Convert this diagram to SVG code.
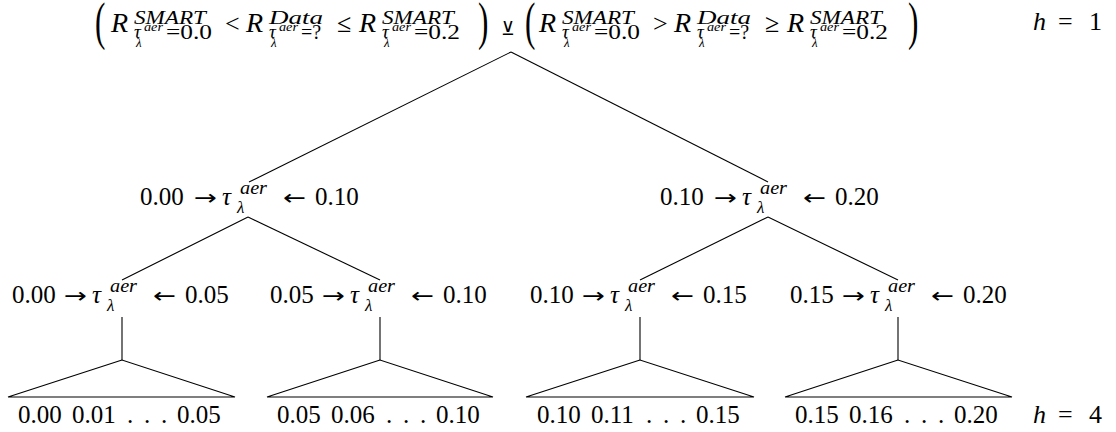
<svg xmlns="http://www.w3.org/2000/svg" width="1116" height="432" viewBox="0 0 1116 432">
<style>
text{font-family:"Liberation Serif","DejaVu Serif",serif;fill:#000}
.m{font-size:26px}
.R{font-size:28px;font-style:italic}
.i{font-style:italic}
.s1{font-size:19px}
.s2{font-size:13px}
.sd{font-size:20px}
.l{font-size:25px}
.ar{font-family:"DejaVu Sans",sans-serif;font-size:21px}
.la{font-size:18px;font-style:italic}
.ll{font-size:17px;font-style:italic}
.par{font-size:52px}
.xor{font-family:"DejaVu Serif",serif;font-size:19px}
line,polygon{stroke:#000;stroke-width:1.1;fill:none}
</style>
<rect width="1116" height="432" fill="#fff"/>
<g id="connectors">
<line x1="511" y1="52" x2="249" y2="182"/>
<line x1="511" y1="52" x2="768" y2="182"/>
<line x1="248" y1="217" x2="122" y2="280"/>
<line x1="248" y1="217" x2="380" y2="280"/>
<line x1="768" y1="217" x2="640" y2="280"/>
<line x1="768" y1="217" x2="898" y2="280"/>
<line x1="122" y1="317" x2="122" y2="360"/>
<line x1="380" y1="317" x2="380" y2="360"/>
<line x1="640" y1="317" x2="640" y2="360"/>
<line x1="898" y1="317" x2="898" y2="360"/>
</g>
<g id="root">
<text class="par" transform="translate(95,39) scale(0.6,1)">(</text>
<text class="R" x="111" y="32">R</text>
<text class="s1 i" x="134" y="24" textLength="72" lengthAdjust="spacingAndGlyphs">SMART</text>
<text class="s1 i" x="134" y="38">τ</text>
<text class="s2 i" x="144" y="31" textLength="19" lengthAdjust="spacingAndGlyphs">aer</text>
<text class="s2 i" x="136" y="47">λ</text>
<text class="sd" x="166" y="39" textLength="46" lengthAdjust="spacingAndGlyphs">=0.0</text>
<text class="m" x="225" y="32">&lt;</text>
<text class="R" x="246" y="32">R</text>
<text class="s1 i" x="269" y="24" textLength="54" lengthAdjust="spacingAndGlyphs">Data</text>
<text class="s1 i" x="269" y="38">τ</text>
<text class="s2 i" x="279" y="31" textLength="19" lengthAdjust="spacingAndGlyphs">aer</text>
<text class="s2 i" x="271" y="47">λ</text>
<text class="sd" x="301" y="39">=?</text>
<text class="m" x="337" y="32">≤</text>
<text class="R" x="359" y="32">R</text>
<text class="s1 i" x="382" y="24" textLength="72" lengthAdjust="spacingAndGlyphs">SMART</text>
<text class="s1 i" x="382" y="38">τ</text>
<text class="s2 i" x="392" y="31" textLength="19" lengthAdjust="spacingAndGlyphs">aer</text>
<text class="s2 i" x="384" y="47">λ</text>
<text class="sd" x="414" y="39" textLength="46" lengthAdjust="spacingAndGlyphs">=0.2</text>
<text class="par" transform="translate(478,39) scale(0.6,1)">)</text>
<text class="xor" x="501" y="35">⊻</text>
<text class="par" transform="translate(525,39) scale(0.6,1)">(</text>
<text class="R" x="539" y="32">R</text>
<text class="s1 i" x="562" y="24" textLength="72" lengthAdjust="spacingAndGlyphs">SMART</text>
<text class="s1 i" x="562" y="38">τ</text>
<text class="s2 i" x="572" y="31" textLength="19" lengthAdjust="spacingAndGlyphs">aer</text>
<text class="s2 i" x="564" y="47">λ</text>
<text class="sd" x="594" y="39" textLength="46" lengthAdjust="spacingAndGlyphs">=0.0</text>
<text class="m" x="653" y="32">&gt;</text>
<text class="R" x="674" y="32">R</text>
<text class="s1 i" x="697" y="24" textLength="54" lengthAdjust="spacingAndGlyphs">Data</text>
<text class="s1 i" x="697" y="38">τ</text>
<text class="s2 i" x="707" y="31" textLength="19" lengthAdjust="spacingAndGlyphs">aer</text>
<text class="s2 i" x="699" y="47">λ</text>
<text class="sd" x="729" y="39">=?</text>
<text class="m" x="765" y="32">≥</text>
<text class="R" x="787" y="32">R</text>
<text class="s1 i" x="810" y="24" textLength="72" lengthAdjust="spacingAndGlyphs">SMART</text>
<text class="s1 i" x="810" y="38">τ</text>
<text class="s2 i" x="820" y="31" textLength="19" lengthAdjust="spacingAndGlyphs">aer</text>
<text class="s2 i" x="812" y="47">λ</text>
<text class="sd" x="842" y="39" textLength="46" lengthAdjust="spacingAndGlyphs">=0.2</text>
<text class="par" transform="translate(908,39) scale(0.6,1)">)</text>
</g>
<g id="h1">
<text class="m i" x="1033" y="30">h</text>
<text class="m" x="1058" y="30">=</text>
<text class="m" x="1089" y="30">1</text>
</g>
<g id="h4">
<text class="m i" x="1033" y="423">h</text>
<text class="m" x="1058" y="423">=</text>
<text class="m" x="1089" y="423">4</text>
</g>
<g id="n_0_10">
<text class="l" x="140" y="205">0.00</text>
<text class="ar" x="194" y="205" textLength="23" lengthAdjust="spacingAndGlyphs">→</text>
<text class="l i" x="222" y="205">τ</text>
<text class="la" x="240" y="194" textLength="27" lengthAdjust="spacingAndGlyphs">aer</text>
<text class="ll" x="237" y="213">λ</text>
<text class="ar" x="283" y="205" textLength="23" lengthAdjust="spacingAndGlyphs">←</text>
<text class="l" x="315" y="205">0.10</text>
</g>
<g id="n_10_20">
<text class="l" x="660" y="205">0.10</text>
<text class="ar" x="714" y="205" textLength="23" lengthAdjust="spacingAndGlyphs">→</text>
<text class="l i" x="742" y="205">τ</text>
<text class="la" x="760" y="194" textLength="27" lengthAdjust="spacingAndGlyphs">aer</text>
<text class="ll" x="757" y="213">λ</text>
<text class="ar" x="803" y="205" textLength="23" lengthAdjust="spacingAndGlyphs">←</text>
<text class="l" x="835" y="205">0.20</text>
</g>
<g id="n_0_05">
<text class="l" x="12" y="303">0.00</text>
<text class="ar" x="64" y="303" textLength="23" lengthAdjust="spacingAndGlyphs">→</text>
<text class="l i" x="92" y="303">τ</text>
<text class="la" x="110" y="292" textLength="27" lengthAdjust="spacingAndGlyphs">aer</text>
<text class="ll" x="107" y="311">λ</text>
<text class="ar" x="153" y="303" textLength="23" lengthAdjust="spacingAndGlyphs">←</text>
<text class="l" x="185" y="303">0.05</text>
</g>
<g id="n_05_10">
<text class="l" x="270" y="303">0.05</text>
<text class="ar" x="322" y="303" textLength="23" lengthAdjust="spacingAndGlyphs">→</text>
<text class="l i" x="350" y="303">τ</text>
<text class="la" x="368" y="292" textLength="27" lengthAdjust="spacingAndGlyphs">aer</text>
<text class="ll" x="365" y="311">λ</text>
<text class="ar" x="411" y="303" textLength="23" lengthAdjust="spacingAndGlyphs">←</text>
<text class="l" x="443" y="303">0.10</text>
</g>
<g id="n_10_15">
<text class="l" x="530" y="303">0.10</text>
<text class="ar" x="582" y="303" textLength="23" lengthAdjust="spacingAndGlyphs">→</text>
<text class="l i" x="610" y="303">τ</text>
<text class="la" x="628" y="292" textLength="27" lengthAdjust="spacingAndGlyphs">aer</text>
<text class="ll" x="625" y="311">λ</text>
<text class="ar" x="671" y="303" textLength="23" lengthAdjust="spacingAndGlyphs">←</text>
<text class="l" x="703" y="303">0.15</text>
</g>
<g id="n_15_20">
<text class="l" x="790" y="303">0.15</text>
<text class="ar" x="842" y="303" textLength="23" lengthAdjust="spacingAndGlyphs">→</text>
<text class="l i" x="870" y="303">τ</text>
<text class="la" x="888" y="292" textLength="27" lengthAdjust="spacingAndGlyphs">aer</text>
<text class="ll" x="885" y="311">λ</text>
<text class="ar" x="931" y="303" textLength="23" lengthAdjust="spacingAndGlyphs">←</text>
<text class="l" x="963" y="303">0.20</text>
</g>
<g id="leaf_0_05">
<polygon points="122,360 8,397 235,397"/>
<text class="l" y="423"><tspan x="18">0.00</tspan><tspan x="72">0.01</tspan><tspan x="127">.</tspan><tspan x="144">.</tspan><tspan x="161">.</tspan><tspan x="177">0.05</tspan></text>
</g>
<g id="leaf_05_10">
<polygon points="380,360 267,397 493,397"/>
<text class="l" y="423"><tspan x="277">0.05</tspan><tspan x="331">0.06</tspan><tspan x="386">.</tspan><tspan x="403">.</tspan><tspan x="420">.</tspan><tspan x="436">0.10</tspan></text>
</g>
<g id="leaf_10_15">
<polygon points="640,360 526,397 754,397"/>
<text class="l" y="423"><tspan x="537">0.10</tspan><tspan x="591">0.11</tspan><tspan x="646">.</tspan><tspan x="663">.</tspan><tspan x="680">.</tspan><tspan x="696">0.15</tspan></text>
</g>
<g id="leaf_15_20">
<polygon points="898,360 785,397 1012,397"/>
<text class="l" y="423"><tspan x="795">0.15</tspan><tspan x="849">0.16</tspan><tspan x="904">.</tspan><tspan x="921">.</tspan><tspan x="938">.</tspan><tspan x="954">0.20</tspan></text>
</g>
</svg>
